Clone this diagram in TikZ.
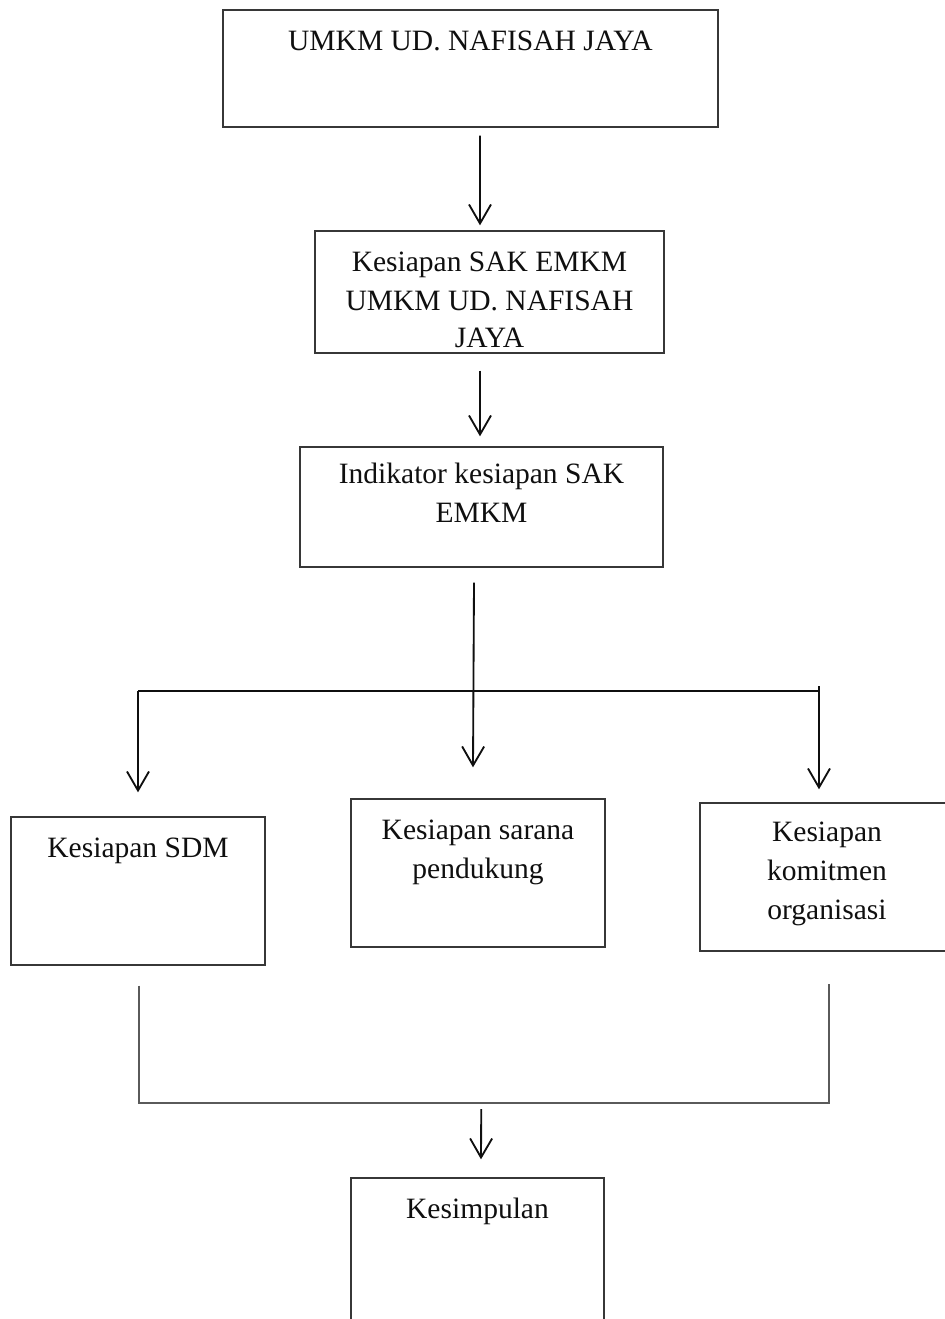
\documentclass[tikz,border=0pt]{standalone}
\usepackage{fontspec}
\setmainfont{Liberation Serif}
\usetikzlibrary{arrows.meta,calc,positioning}
\definecolor{fcInk}{RGB}{15,15,15}
\definecolor{fcFrame}{RGB}{55,55,55}
\definecolor{fcJoin}{RGB}{90,90,90}

\begin{document}
\begin{tikzpicture}[x=0.02cm,y=-0.02cm,
  fcbox/.style={draw=fcFrame,line width=0.8pt,inner sep=0pt},
  fctext/.style={inner sep=0pt,align=center,text=fcInk,
    font=\fontsize{16.8}{22.2}\selectfont},
  fcarrow/.style={draw=fcInk,line width=1.05pt,
    -{Straight Barb[length=3.8mm,width=4.4mm]}},
  fcline/.style={draw=fcInk,line width=1.05pt},
  fcjoin/.style={draw=fcJoin,line width=0.9pt}]
  \useasboundingbox (0,0) rectangle (944,1319);
  \node[fcbox,minimum width=9.9cm,minimum height=2.34cm] (umkm) at (470.5,68.5) {};
  \node[fctext,below=0.43cm of umkm.north] (umkmtxt) {UMKM UD. NAFISAH JAYA};
  \node[fcbox,minimum width=6.98cm,minimum height=2.44cm] (kesiapan) at (489.5,292) {};
  \node[fctext,below=0.42cm of kesiapan.north] (kesiapantxt)
    {Kesiapan SAK EMKM\\UMKM UD. NAFISAH\\[-1pt]JAYA};
  \node[fcbox,minimum width=7.26cm,minimum height=2.4cm] (indikator) at (481.5,507) {};
  \node[fctext,below=0.33cm of indikator.north] (indikatortxt)
    {Indikator kesiapan SAK\\EMKM};
  \node[fcbox,minimum width=5.08cm,minimum height=2.96cm] (sdm) at (138,891) {};
  \node[fctext,below=0.42cm of sdm.north] (sdmtxt) {Kesiapan SDM};
  \node[fcbox,minimum width=5.08cm,minimum height=2.96cm] (sarana) at (478,873) {};
  \node[fctext,below=0.42cm of sarana.north] (saranatxt) {Kesiapan sarana\\pendukung};
  \node[fcbox,minimum width=5.08cm,minimum height=2.96cm] (komitmen) at (827,877) {};
  \node[fctext,below=0.38cm of komitmen.north] (komitmentxt)
    {Kesiapan\\komitmen\\organisasi};
  \node[fcbox,minimum width=5.06cm,minimum height=2.96cm] (kesimpulan) at (477.5,1252) {};
  \node[fctext,below=0.4cm of kesimpulan.north] (kesimpulantxt) {Kesimpulan};
  \coordinate (splitL) at (138,691);
  \coordinate (splitR) at (819,691);
  \coordinate (joinL) at (139,1103);
  \coordinate (joinR) at (829,1103);
  \draw[fcarrow] ($(umkm.south)+(9.5,8)$) -- ($(kesiapan.north)+(-9.5,-5)$);
  \draw[fcarrow] ($(kesiapan.south)+(-9.5,17)$) -- ($(indikator.north)+(-1.5,-10)$);
  \draw[fcarrow] ($(indikator.south)+(-7.5,15)$) -- ($(sarana.north)+(-5,-31)$);
  \draw[fcline] (splitL) -- (splitR);
  \draw[fcarrow] (splitL) -- ($(sdm.north)+(0,-24)$);
  \draw[fcarrow] ($(splitR)+(0,-5)$) -- ($(komitmen.north)+(-8,-13)$);
  \draw[fcjoin] ($(sdm.south)+(1,20)$) -- (joinL) -- (joinR) -- ($(komitmen.south)+(2,32)$);
  \draw[fcarrow] ($(joinL)!0.496!(joinR)+(0,6)$) -- ($(kesimpulan.north)+(3.5,-18)$);
\end{tikzpicture}
\end{document}
